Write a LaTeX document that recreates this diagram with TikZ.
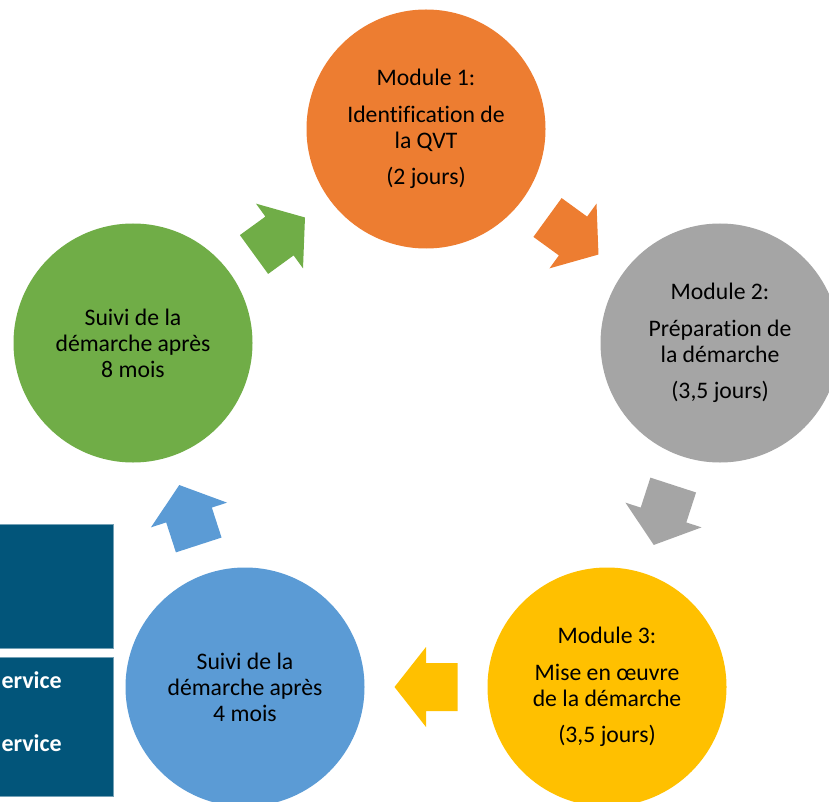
\documentclass[tikz,border=0pt]{standalone}
\usepackage{fontspec}
\setmainfont{Carlito}[Ligatures=NoCommon]
\usetikzlibrary{calc}
\definecolor{corange}{HTML}{ED7D31}
\definecolor{cgray}{HTML}{A5A5A5}
\definecolor{cyellow}{HTML}{FFC000}
\definecolor{cblue}{HTML}{5B9BD5}
\definecolor{cgreen}{HTML}{70AD47}
\definecolor{cbox}{HTML}{02557A}
\newcommand{\cycArrow}[4]{%
  \fill[#4, shift={($(#1)!0.5!(#2)$)}, rotate=#3]
    (-31.5,-24) -- (0,-24) -- (0,-40) -- (31.5,0) -- (0,40) -- (0,24) -- (-31.5,24) -- cycle;}
\begin{document}
\begin{tikzpicture}[x=1pt,y=-1pt,
  stage/.style={circle, inner sep=0pt, minimum size=239pt, align=center,
    text=black, font=\fontsize{23.7}{26}\selectfont},
  sidebox/.style={fill=cbox, draw=cbox!55!white, line width=0.6pt},
  sidetext/.style={text=white, font=\bfseries\fontsize{24}{28}\selectfont, anchor=base east, inner sep=0pt}]
\useasboundingbox (0,0) rectangle (829,802);
\clip (0,0) rectangle (829,802);
% side boxes
\node[sidebox, minimum width=134pt, minimum height=124pt, inner sep=0pt, anchor=north east] (boxA) at (114,524) {};
\node[sidebox, minimum width=134pt, minimum height=139pt, inner sep=0pt, anchor=north east] (boxB) at (114,657) {};
\node[sidetext] (t1) at (62,688) {ervice};
\node[sidetext] (t2) at (62,751) {ervice};
% circles
\node[stage, fill=corange] (m1) at (426,129) {Module 1:\\[10.5pt]Identification de\\la QVT\\[10.5pt](2 jours)};
\node[stage, fill=cgray] (m2) at (720,343) {Module 2:\\[10.5pt]Préparation de\\la démarche\\[10.5pt](3,5 jours)};
\node[stage, fill=cyellow] (m3) at (607,687) {Module 3:\\[10.5pt]Mise en œuvre\\de la démarche\\[10.5pt](3,5 jours)};
\node[stage, fill=cblue] (s4) at (245,687) {Suivi de la\\démarche après\\4 mois};
\node[stage, fill=cgreen] (s8) at (133,343) {Suivi de la\\démarche après\\8 mois};
% arrows
\cycArrow{m1}{m2}{-36}{corange}
\cycArrow{m2}{m3}{-108}{cgray}
\cycArrow{m3}{s4}{180}{cyellow}
\cycArrow{s4}{s8}{108}{cblue}
\cycArrow{s8}{m1}{36}{cgreen}
\end{tikzpicture}
\end{document}
